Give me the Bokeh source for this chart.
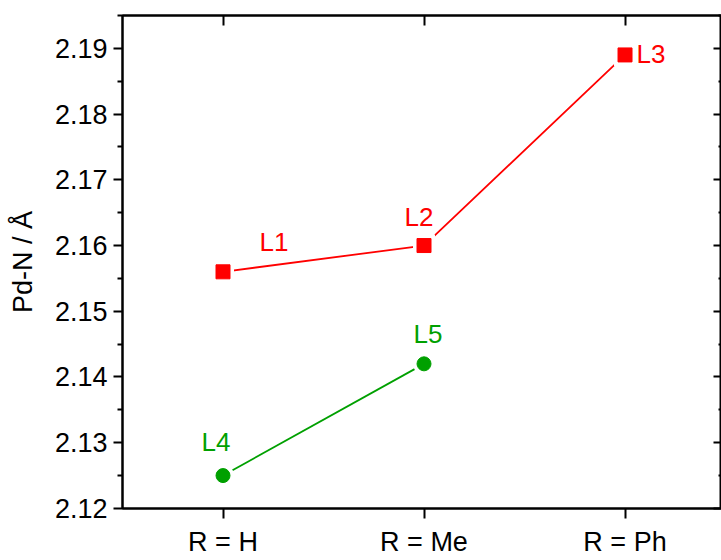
from bokeh.plotting import figure
from bokeh.models import Range1d, LinearAxis, FixedTicker, NumeralTickFormatter
from bokeh.core.properties import value
from bokeh.embed import file_html
from bokeh.resources import INLINE

# ---- data ----
categories = ["R = H", "R = Me", "R = Ph"]
red_labels = ["L1", "L2", "L3"]
red_values = [2.156, 2.160, 2.189]
green_labels = ["L4", "L5"]
green_values = [2.125, 2.142]
y_ticks = [2.12, 2.13, 2.14, 2.15, 2.16, 2.17, 2.18, 2.19]
y_minor_ticks = [2.125, 2.135, 2.145, 2.155, 2.165, 2.175, 2.185, 2.195]

# ---- styles ----
RED = "#FF0000"
GREEN = "#00A000"
FONT = "Liberation Sans"
red_label_dx = [51, -5, 26]
red_label_dy = [-30, -29, -1]
green_label_dx = [-7, 4]
green_label_dy = [-34, -30]

x_pos = [i + 1 for i in range(len(categories))]
red_x = x_pos[:len(red_values)]
green_x = x_pos[:len(green_values)]

p = figure(width=721, height=560, output_backend="svg", toolbar_location=None,
           x_range=Range1d(0.5, 3.48), y_range=Range1d(2.11999, 2.195),
           x_axis_location=None, y_axis_location=None,
           min_border_left=122, min_border_right=0, min_border_top=15, min_border_bottom=52)
p.grid.visible = False
p.outline_line_color = "black"
p.outline_line_width = 2
p.background_fill_color = "white"
p.border_fill_color = "white"

yticker = FixedTicker(ticks=y_ticks, minor_ticks=y_minor_ticks)
xticker = FixedTicker(ticks=x_pos, minor_ticks=[])

def style_axis(ax):
    ax.axis_line_color = "black"
    ax.axis_line_width = 2
    ax.major_tick_line_color = "black"
    ax.major_tick_line_width = 2
    ax.minor_tick_line_color = "black"
    ax.minor_tick_line_width = 2
    ax.major_label_text_font = FONT
    ax.major_label_text_color = "black"
    ax.axis_label_text_font = FONT
    ax.axis_label_text_color = "black"
    ax.axis_label_text_font_style = "normal"

def hide_labels(ax):
    ax.major_label_standoff = 0
    ax.major_label_text_font_size = "1px"
    ax.major_label_text_color = None

left = LinearAxis(ticker=yticker, formatter=NumeralTickFormatter(format="0.00"),
                  axis_label="Pd-N / Å")
style_axis(left)
left.major_tick_out = 9
left.major_tick_in = 0
left.minor_tick_out = 5
left.minor_tick_in = 0
left.major_label_standoff = 6
left.major_label_text_font_size = "27px"
left.axis_label_text_font_size = "27px"
left.axis_label_standoff = 14
p.add_layout(left, "left")

right = LinearAxis(ticker=yticker)
style_axis(right)
right.major_tick_out = 0
right.major_tick_in = 8
right.minor_tick_out = 0
right.minor_tick_in = 3
hide_labels(right)
p.add_layout(right, "right")

bottom = LinearAxis(ticker=xticker,
                    major_label_overrides={x: c for x, c in zip(x_pos, categories)})
style_axis(bottom)
bottom.major_tick_out = 10
bottom.major_tick_in = 0
bottom.major_label_standoff = 8
bottom.major_label_text_font_size = "27px"
p.add_layout(bottom, "below")

top = LinearAxis(ticker=xticker)
style_axis(top)
top.major_tick_out = 0
top.major_tick_in = 10
hide_labels(top)
p.add_layout(top, "above")

# lines
p.line(red_x, red_values, line_color=RED, line_width=1.8)
p.line(green_x, green_values, line_color=GREEN, line_width=1.8)

# white halos (gap between line and marker)
p.scatter(red_x, red_values, marker="square", size=22, fill_color="white", line_color=None)
p.scatter(green_x, green_values, marker="circle", size=22, fill_color="white", line_color=None)

# markers
p.scatter(red_x, red_values, marker="square", size=14, fill_color=RED, line_color=RED, line_width=1)
p.scatter(green_x, green_values, marker="circle", size=14, fill_color=GREEN, line_color=GREEN, line_width=1)

# labels
p.text(x=red_x, y=red_values, text=red_labels, x_offset=red_label_dx, y_offset=red_label_dy,
       text_align="center", text_baseline="middle", text_color=RED,
       text_font=value(FONT), text_font_size="26px")
p.text(x=green_x, y=green_values, text=green_labels, x_offset=green_label_dx, y_offset=green_label_dy,
       text_align="center", text_baseline="middle", text_color=GREEN,
       text_font=value(FONT), text_font_size="26px")

open("out.html", "w").write(file_html(p, INLINE))
